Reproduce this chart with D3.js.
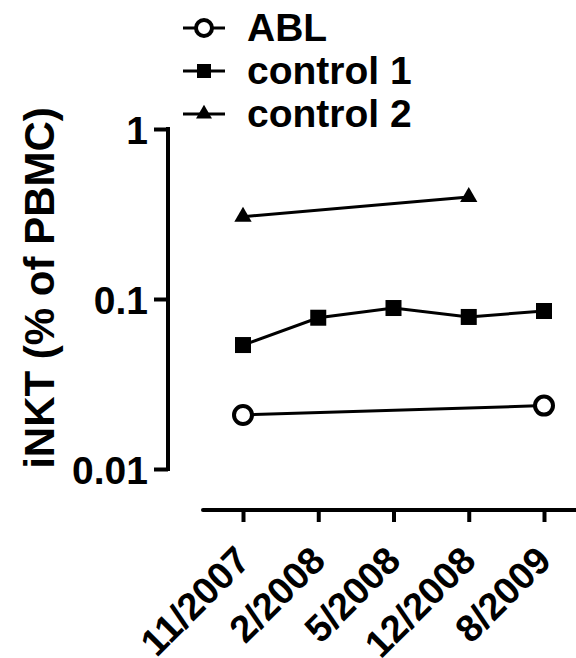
<!DOCTYPE html>
<html>
<head>
<meta charset="utf-8">
<script src="https://cdn.jsdelivr.net/npm/d3@7"></script>
<style>
  body { margin: 0; background: #fff; }
  text { font-family: "Liberation Sans", Arial, sans-serif; font-weight: bold; }
</style>
</head>
<body>
<div id="chart"></div>
<script>
// data
const dates = ["11/2007", "2/2008", "5/2008", "12/2008", "8/2009"];
const ablValues = [
  { date: "11/2007", value: 0.0208 },
  { date: "8/2009", value: 0.0236 }
];
const control1Values = [
  { date: "11/2007", value: 0.0536 },
  { date: "2/2008", value: 0.0776 },
  { date: "5/2008", value: 0.0885 },
  { date: "12/2008", value: 0.0784 },
  { date: "8/2009", value: 0.085 }
];
const control2Values = [
  { date: "11/2007", value: 0.305 },
  { date: "12/2008", value: 0.398 }
];
const yTicks = [0.01, 0.1, 1];
const seriesNames = ["ABL", "control 1", "control 2"];

const width = 576, height = 658;

const svg = d3.select("#chart").append("svg")
    .attr("width", width)
    .attr("height", height);

const x = d3.scalePoint()
    .domain(dates)
    .range([243, 544]);

const y = d3.scaleLog()
    .domain([0.01, 1])
    .range([469, 129]);

// y axis
const yAxis = svg.append("g")
    .attr("transform", "translate(168,0)")
    .call(d3.axisLeft(y).tickValues(yTicks).tickSize(14).tickPadding(6)
      .tickFormat(d => d === 1 ? "1" : d === 0.1 ? "0.1" : "0.01"));
yAxis.select(".domain").remove();
yAxis.append("line")
    .attr("x1", 0).attr("x2", 0)
    .attr("y1", y(1) - 2).attr("y2", y(0.01) + 2)
    .attr("stroke", "#000").attr("stroke-width", 4);
yAxis.selectAll(".tick line").attr("stroke", "#000").attr("stroke-width", 4);
yAxis.selectAll(".tick text")
    .attr("fill", "#000")
    .attr("font-size", 39)
    .attr("dy", "0.36em");

// y label
svg.append("text")
    .attr("transform", "translate(54,288) rotate(-90)")
    .attr("text-anchor", "middle")
    .attr("font-size", 42)
    .text("iNKT (% of PBMC)");

// x axis
const xAxis = svg.append("g")
    .attr("transform", "translate(0,510)")
    .call(d3.axisBottom(x).tickSize(12).tickFormat(""));
xAxis.select(".domain").remove();
xAxis.append("line")
    .attr("x1", 203).attr("x2", 600)
    .attr("y1", 0).attr("y2", 0)
    .attr("stroke", "#000").attr("stroke-width", 4)
    .attr("stroke-linecap", "round");
xAxis.selectAll(".tick line").attr("stroke", "#000").attr("stroke-width", 4);

xAxis.selectAll(".tick")
    .append("text")
    .attr("transform", "translate(-1,43) rotate(-45)")
    .attr("text-anchor", "end")
    .attr("dy", "0.36em")
    .attr("fill", "#000")
    .attr("font-size", 38)
    .text(d => d);

// lines
const line = d3.line()
    .x(d => x(d.date))
    .y(d => y(d.value));

[ablValues, control1Values, control2Values].forEach(s => {
  svg.append("path")
      .datum(s)
      .attr("d", line)
      .attr("fill", "none")
      .attr("stroke", "#000")
      .attr("stroke-width", 3);
});

const tri = d3.symbol().type(d3.symbolTriangle).size(130);

// markers
svg.selectAll(".c2")
    .data(control2Values)
    .join("path")
    .attr("transform", d => `translate(${x(d.date)},${y(d.value)})`)
    .attr("d", tri)
    .attr("fill", "#000");

svg.selectAll(".c1")
    .data(control1Values)
    .join("rect")
    .attr("x", d => x(d.date) - 8)
    .attr("y", d => y(d.value) - 8)
    .attr("width", 16)
    .attr("height", 16)
    .attr("fill", "#000");

svg.selectAll(".abl")
    .data(ablValues)
    .join("circle")
    .attr("cx", d => x(d.date))
    .attr("cy", d => y(d.value))
    .attr("r", 9)
    .attr("fill", "#fff")
    .attr("stroke", "#000")
    .attr("stroke-width", 4);

// legend
const legend = svg.append("g");
const rows = legend.selectAll("g")
    .data(seriesNames)
    .join("g")
    .attr("transform", (d, i) => `translate(0,${28 + i * 43})`);

rows.append("line")
    .attr("x1", 183).attr("x2", 225)
    .attr("stroke", "#000").attr("stroke-width", 3);

rows.each(function(d, i) {
  const g = d3.select(this);
  if (i === 0) {
    g.append("circle").attr("cx", 204).attr("r", 8)
      .attr("fill", "#fff").attr("stroke", "#000").attr("stroke-width", 4);
  } else if (i === 1) {
    g.append("rect").attr("x", 197).attr("y", -7).attr("width", 14).attr("height", 14)
      .attr("fill", "#000");
  } else {
    g.append("path").attr("transform", "translate(204,0)")
      .attr("d", d3.symbol().type(d3.symbolTriangle).size(110)).attr("fill", "#000");
  }
});

rows.append("text")
    .attr("x", 247)
    .attr("y", 13)
    .attr("font-size", 39)
    .text(d => d);
</script>
</body>
</html>
